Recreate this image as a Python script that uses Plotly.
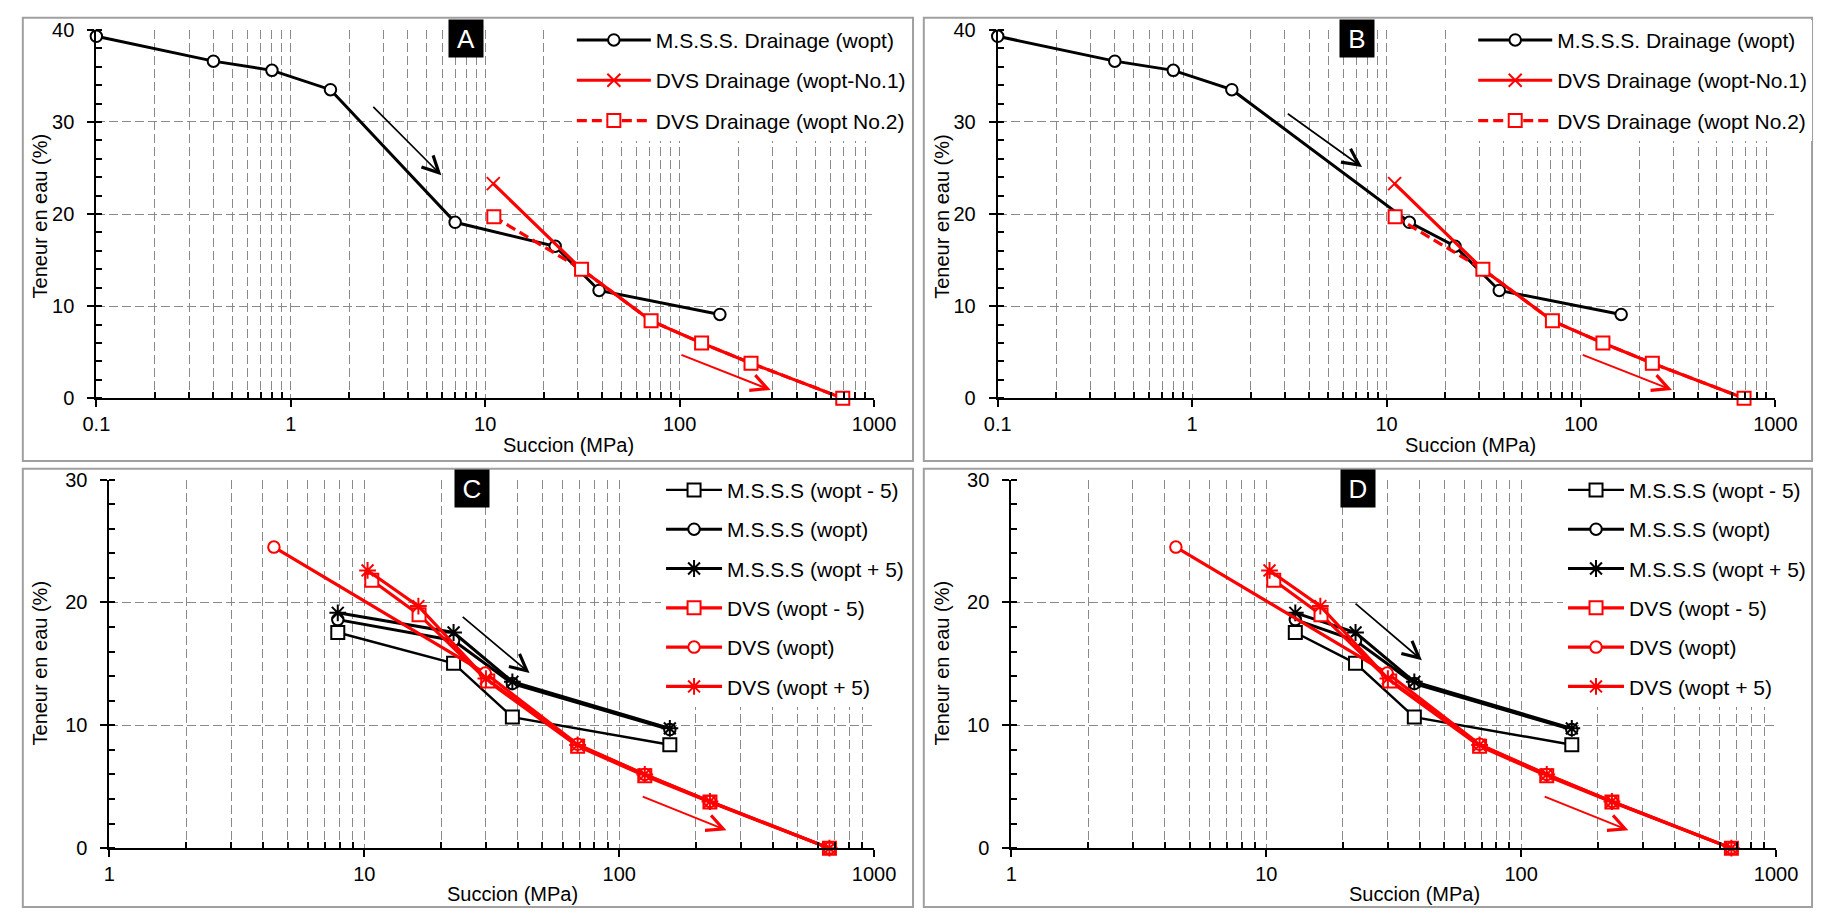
import math
import plotly.graph_objects as go

W, H = 1836, 920
FONT = "Liberation Sans, Arial, sans-serif"
GRID = "#8a8a8a"
RED = "#FF0000"

# ---------------- data (panels A & B) ----------------
mss_drain_A_x = [0.1, 0.4, 0.8, 1.6, 7.0, 22.9, 38.5, 161]
mss_drain_B_x = [0.1, 0.4, 0.8, 1.6, 13.1, 22.5, 38.0, 161]
mss_drain_y = [39.3, 36.6, 35.6, 33.5, 19.1, 16.5, 11.7, 9.1]
dvs_no1_x = [11.0, 31.3, 71.3, 129.7, 232.8, 690]
dvs_no1_y = [23.3, 14.0, 8.4, 6.0, 3.8, 0.0]
dvs_no2_x = [11.07, 31.3, 71.3, 129.7, 232.8, 690]
dvs_no2_y = [19.7, 14.0, 8.4, 6.0, 3.8, 0.0]

# ---------------- data (panels C & D) ----------------
mss_C_x = [7.87, 22.4, 38.1, 158]
mss_D_x = [13.0, 22.4, 38.1, 158]
mss_m5_y = [17.55, 15.04, 10.67, 8.42]
mss_w_y = [18.6, 16.9, 13.4, 9.65]
mss_p5_y = [19.15, 17.55, 13.54, 9.75]
dvs_m5_x = [10.7, 16.4, 30.5, 68.7, 126, 227, 668]
dvs_m5_y = [21.8, 19.0, 13.6, 8.3, 5.9, 3.75, 0.0]
dvs_w_x = [4.42, 29.8, 68.7, 126, 227, 668]
dvs_w_y = [24.5, 14.25, 8.45, 6.0, 3.8, 0.0]
dvs_p5_x = [10.3, 16.3, 30.0, 68.7, 126, 227, 668]
dvs_p5_y = [22.6, 19.7, 13.8, 8.4, 6.0, 3.8, 0.0]

# arrows: (x_start, y_start, x_end, y_end)
arrow_A_black = (2.61, 31.8, 5.95, 24.2)
arrow_B_black = (3.05, 31.0, 7.48, 25.1)
arrow_AB_red = (100.3, 4.77, 294, 0.89)
arrow_C_black = (24.0, 18.93, 44.5, 14.25)
arrow_D_black = (22.1, 20.0, 40.8, 15.3)
arrow_CD_red = (122, 4.24, 263.5, 1.46)

# ticks
ticks_AB = [0.1, 1, 10, 100, 1000]
ticks_AB_text = ["0.1", "1", "10", "100", "1000"]
ticks_CD = [1, 10, 100, 1000]
ticks_CD_text = ["1", "10", "100", "1000"]
panel_letters = ["A", "B", "C", "D"]


def minor_vals(d0, d1):
    vals = []
    for e in range(d0, d1):
        for m in range(2, 10):
            vals.append(m * 10 ** e)
    return vals


def px(x):
    return x / W


def py(y):
    return 1 - y / H


def xd(a, b):
    return [px(a), px(b)]


def yd(top, bottom):
    return [py(bottom), py(top)]


def xaxis(domain, rng, tv, tt, minors, anchor):
    return dict(
        type="log", domain=domain, range=rng, anchor=anchor,
        tickvals=tv, ticktext=tt, ticks="outside", ticklen=7, tickwidth=2,
        tickcolor="black", showline=True, linecolor="black", linewidth=2,
        showgrid=True, gridcolor=GRID, griddash="9px,4px", gridwidth=1.3,
        minor=dict(tickvals=minors, ticks="inside", ticklen=6, tickwidth=1.5,
                   tickcolor="black", showgrid=True, gridcolor=GRID,
                   griddash="9px,4px", gridwidth=1.3),
        tickfont=dict(size=20, color="black", family=FONT), zeroline=False,
    )


def yaxis(domain, rng, anchor, standoff):
    return dict(
        domain=domain, range=rng, anchor=anchor, dtick=10, tick0=0,
        ticks="outside", ticklen=7, tickwidth=2, tickcolor="black",
        showline=True, linecolor="black", linewidth=2,
        showgrid=True, gridcolor=GRID, griddash="9px,4px", gridwidth=1.3,
        minor=dict(dtick=2, ticks="inside", ticklen=6, tickwidth=1.5,
                   tickcolor="black", showgrid=False),
        tickfont=dict(size=20, color="black", family=FONT), zeroline=False,
        ticklabelstandoff=standoff,
    )


fig = go.Figure()

BLACK_LW = 3
RED_LW = 3.2


def circ(color):
    return dict(symbol="circle", size=11.5, color="white", line=dict(color=color, width=2))


def sq(color):
    return dict(symbol="square", size=13, color="white", line=dict(color=color, width=2))


def ast(color):
    return dict(symbol="asterisk-open", size=14, color=color, line=dict(color=color, width=2))


xmark = dict(symbol="x-thin-open", size=13, color=RED, line=dict(color=RED, width=2))

# Panels A & B
for i, (mx, xa, ya, leg) in enumerate([(mss_drain_A_x, "x", "y", "legend"),
                                        (mss_drain_B_x, "x2", "y2", "legend2")]):
    fig.add_trace(go.Scatter(x=mx, y=mss_drain_y, mode="lines+markers",
                             name="M.S.S.S. Drainage (wopt)", xaxis=xa, yaxis=ya,
                             line=dict(color="black", width=BLACK_LW), marker=circ("black"),
                             legend=leg, legendgroup=f"g{i}a", cliponaxis=False))
    fig.add_trace(go.Scatter(x=dvs_no1_x, y=dvs_no1_y, mode="lines+markers",
                             name="DVS Drainage (wopt-No.1)", xaxis=xa, yaxis=ya,
                             line=dict(color=RED, width=RED_LW), marker=xmark,
                             legend=leg, legendgroup=f"g{i}b", cliponaxis=False))
    fig.add_trace(go.Scatter(x=dvs_no2_x, y=dvs_no2_y, mode="lines+markers",
                             name="DVS Drainage (wopt No.2)", xaxis=xa, yaxis=ya,
                             line=dict(color=RED, width=RED_LW, dash="10px,5px"), marker=sq(RED),
                             legend=leg, legendgroup=f"g{i}c", cliponaxis=False))

# Panels C & D
for i, (mx, xa, ya, leg) in enumerate([(mss_C_x, "x3", "y3", "legend3"),
                                        (mss_D_x, "x4", "y4", "legend4")]):
    specs = [
        (mx, mss_m5_y, "M.S.S.S (wopt - 5)", "black", sq("black"), 2.4),
        (mx, mss_w_y, "M.S.S.S (wopt)", "black", circ("black"), BLACK_LW),
        (mx, mss_p5_y, "M.S.S.S (wopt + 5)", "black", ast("black"), BLACK_LW),
        (dvs_m5_x, dvs_m5_y, "DVS (wopt - 5)", RED, sq(RED), RED_LW),
        (dvs_w_x, dvs_w_y, "DVS (wopt)", RED, circ(RED), RED_LW),
        (dvs_p5_x, dvs_p5_y, "DVS (wopt + 5)", RED, ast(RED), RED_LW),
    ]
    for j, (sx, sy, name, col, mk, lw) in enumerate(specs):
        fig.add_trace(go.Scatter(x=sx, y=sy, mode="lines+markers", name=name,
                                 xaxis=xa, yaxis=ya, line=dict(color=col, width=lw),
                                 marker=mk, legend=leg, legendgroup=f"c{i}{j}",
                                 cliponaxis=False))

# ---------------- layout ----------------
dom = {
    "A": (xd(84, 877.3), yd(19.3, 396.7)),
    "B": (xd(1003.4, 1796.6), yd(19.3, 396.7)),
    "C": (xd(97.3, 877.3), yd(480, 857.7)),
    "D": (xd(1017.3, 1797.3), yd(480, 857.7)),
}

layout = dict(
    width=W, height=H, margin=dict(l=0, r=0, t=0, b=0),
    paper_bgcolor="white", plot_bgcolor="white",
    font=dict(family=FONT, color="black", size=20),
    xaxis=xaxis(dom["A"][0], [-1, 3], ticks_AB, ticks_AB_text, minor_vals(-1, 3), "y"),
    xaxis2=xaxis(dom["B"][0], [-1, 3], ticks_AB, ticks_AB_text, minor_vals(-1, 3), "y2"),
    xaxis3=xaxis(dom["C"][0], [0, 3], ticks_CD, ticks_CD_text, minor_vals(0, 3), "y3"),
    xaxis4=xaxis(dom["D"][0], [0, 3], ticks_CD, ticks_CD_text, minor_vals(0, 3), "y4"),
    yaxis=yaxis(dom["A"][1], [0, 40], "x", 9),
    yaxis2=yaxis(dom["B"][1], [0, 40], "x2", 9),
    yaxis3=yaxis(dom["C"][1], [0, 30], "x3", 9),
    yaxis4=yaxis(dom["D"][1], [0, 30], "x4", 9),
    showlegend=True,
)


def leg(xpx, ypx, iw, gap):
    return dict(x=px(xpx), y=py(ypx), xanchor="left", yanchor="top",
                bgcolor="white", borderwidth=0, itemwidth=iw,
                tracegroupgap=gap, font=dict(size=21, family=FONT, color="black"),
                itemclick=False, itemdoubleclick=False)


layout["legend"] = leg(569, 9, 74, 10)
layout["legend2"] = leg(569 + 919.4, 9, 74, 10)
layout["legend3"] = leg(660, 470, 56, 9)
layout["legend4"] = leg(660 + 920, 470, 56, 9)
fig.update_layout(**layout)

# panel borders
for x0, y0, x1, y1 in [(9, 7, 917, 461), (928, 7, 1834, 461),
                       (9, 469, 917, 918), (928, 469, 1834, 918)]:
    fig.add_shape(type="rect", xref="paper", yref="paper",
                  x0=px(x0), x1=px(x1), y0=py(y1), y1=py(y0),
                  line=dict(color="#A0A0A0", width=2), fillcolor="rgba(0,0,0,0)",
                  layer="above")

# panel letter boxes
for letter, cx, cy in zip(panel_letters, [461, 1370, 467, 1371], [28, 28, 489, 489]):
    fig.add_annotation(text=letter, xref="paper", yref="paper", x=px(cx), y=py(cy),
                       xanchor="center", yanchor="middle", showarrow=False,
                       width=34, height=37, borderpad=0, bgcolor="black",
                       font=dict(color="white", size=26, family=FONT))

# axis titles
for cx, cy in [(27, 210), (27 + 919.4, 210), (27, 668), (27 + 920, 668)]:
    fig.add_annotation(text="Teneur en eau (%)", xref="paper", yref="paper",
                       x=px(cx), y=py(cy), xanchor="center", yanchor="middle",
                       textangle=-90, showarrow=False, font=dict(size=20, family=FONT))
for cx, cy in [(566, 445), (566 + 919.4, 445), (508, 905), (508 + 920, 905)]:
    fig.add_annotation(text="Succion (MPa)", xref="paper", yref="paper",
                       x=px(cx), y=py(cy), xanchor="center", yanchor="middle",
                       showarrow=False, font=dict(size=20, family=FONT))

# arrows
for (x0, y0, x1, y1), xa, ya, col, wdt, sz in [
    (arrow_A_black, "x", "y", "black", 1.7, 1.9),
    (arrow_B_black, "x2", "y2", "black", 1.7, 1.9),
    (arrow_AB_red, "x", "y", RED, 2, 1.6),
    (arrow_AB_red, "x2", "y2", RED, 2, 1.6),
    (arrow_C_black, "x3", "y3", "black", 1.7, 1.9),
    (arrow_D_black, "x4", "y4", "black", 1.7, 1.9),
    (arrow_CD_red, "x3", "y3", RED, 2, 1.6),
    (arrow_CD_red, "x4", "y4", RED, 2, 1.6),
]:
    fig.add_annotation(x=math.log10(x1), y=y1, ax=math.log10(x0), ay=y0,
                       xref=xa, yref=ya, axref=xa, ayref=ya, text="",
                       showarrow=True, arrowhead=5, arrowsize=sz,
                       arrowwidth=wdt, arrowcolor=col, standoff=0)

page_js = ("document.body.style.margin='0px';document.body.style.padding='0px';"
           "document.documentElement.style.overflow='hidden';"
           "document.body.style.overflow='hidden';")
fig.write_html("out.html", config={"displayModeBar": False}, post_script=page_js)
